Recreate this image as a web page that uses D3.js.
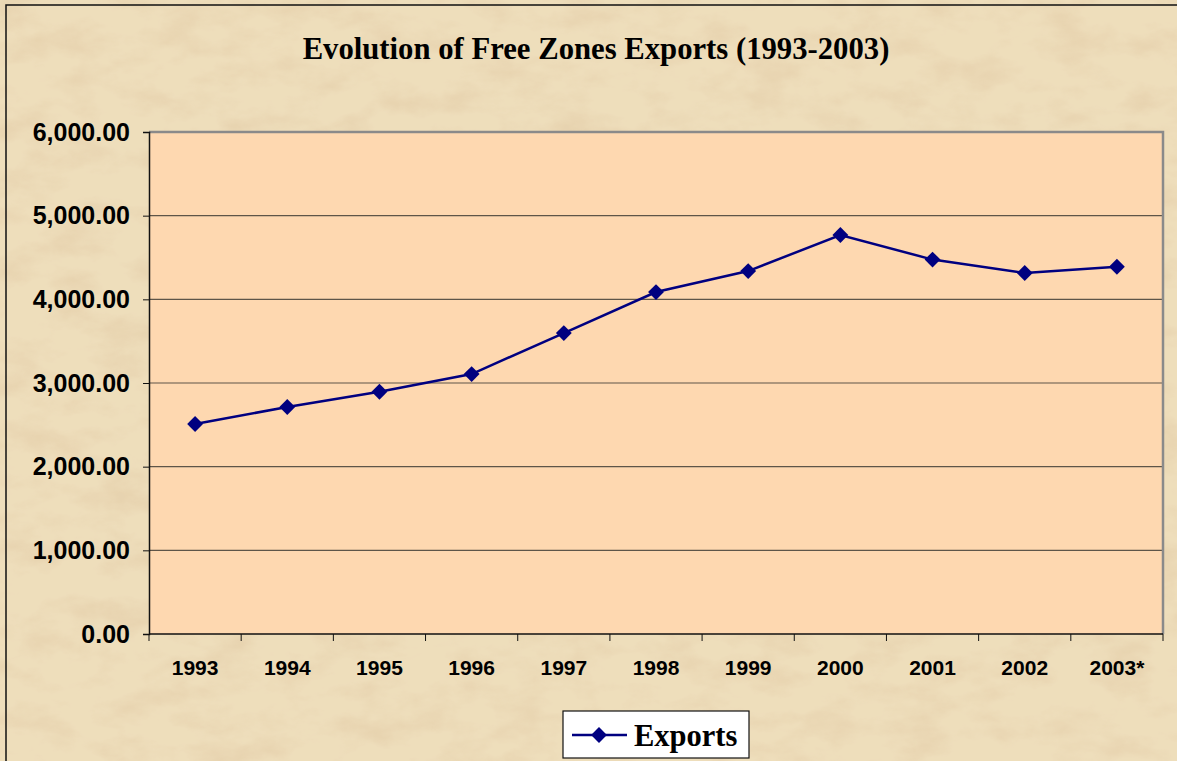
<!DOCTYPE html>
<html>
<head>
<meta charset="utf-8">
<script src="https://cdn.jsdelivr.net/npm/d3@7"></script>
<style>
  body { margin: 0; background: #e9d6ac; }
  svg { display: block; }
</style>
</head>
<body>
<svg id="chart" width="1177" height="761"></svg>
<script>
// data
var years = ['1993', '1994', '1995', '1996', '1997', '1998', '1999', '2000', '2001', '2002', '2003*'];
var exportsValues = [2510, 2713, 2895, 3107, 3597, 4087, 4338, 4769, 4475, 4315, 4390];
var yTicks = [0, 1000, 2000, 3000, 4000, 5000, 6000];

var svg = d3.select('#chart');
var W = 1177, H = 761;
var m = {left: 149, right: 1163, top: 132, bottom: 634};

// parchment background
var defs = svg.append('defs');
var f = defs.append('filter').attr('id', 'paper').attr('x', 0).attr('y', 0).attr('width', '100%').attr('height', '100%');
f.append('feTurbulence').attr('type', 'fractalNoise').attr('baseFrequency', '0.02 0.035').attr('numOctaves', 5).attr('seed', 11).attr('result', 'noise');
f.append('feColorMatrix').attr('in', 'noise').attr('type', 'matrix')
	.attr('values', '0 0 0 0 0.80  0 0 0 0 0.65  0 0 0 0 0.43  2.2 0 0 0 -0.95')
	.attr('result', 'tint');
f.append('feComposite').attr('in', 'tint').attr('in2', 'SourceGraphic').attr('operator', 'in').attr('result', 'spots');
f.append('feMerge').selectAll('feMergeNode').data(['SourceGraphic', 'spots']).enter()
	.append('feMergeNode').attr('in', function(d){ return d; });

svg.append('rect').attr('width', W).attr('height', H).attr('fill', '#eedebb').attr('filter', 'url(#paper)');
svg.append('rect').attr('x', 6).attr('y', 5).attr('width', W + 10).attr('height', H + 10)
	.attr('fill', 'none').attr('stroke', '#111').attr('stroke-width', 1.5);

var x = d3.scaleBand().domain(years).range([m.left, m.right]);
var y = d3.scaleLinear().domain([0, 6000]).range([m.bottom, m.top]);

// plot area
svg.append('rect')
	.attr('x', m.left).attr('y', m.top)
	.attr('width', m.right - m.left).attr('height', m.bottom - m.top)
	.attr('fill', '#fed8b0');

// gridlines
svg.append('g').selectAll('line').data(yTicks.slice(1, -1)).enter().append('line')
	.attr('x1', m.left).attr('x2', m.right)
	.attr('y1', function(d){ return y(d); }).attr('y2', function(d){ return y(d); })
	.attr('stroke', '#5e5548').attr('stroke-width', 1.2);

// top and right frame
svg.append('path')
	.attr('d', 'M' + m.left + ',' + m.top + 'H' + m.right + 'V' + m.bottom)
	.attr('fill', 'none').attr('stroke', '#8a8a8a').attr('stroke-width', 2.5);

// y axis
var yAxis = svg.append('g').attr('transform', 'translate(' + m.left + ',0)')
	.call(d3.axisLeft(y).tickValues(yTicks).tickSize(6).tickPadding(13).tickFormat(d3.format(',.2f')));
yAxis.select('.domain').attr('stroke', '#111').attr('stroke-width', 1.5);
yAxis.selectAll('.tick line').attr('stroke', '#111');
yAxis.selectAll('text').attr('font-family', 'Liberation Sans, Arial, sans-serif')
	.attr('font-weight', 'bold').attr('font-size', 25).attr('fill', '#000');

// x axis: ticks between categories
var xg = svg.append('g').attr('transform', 'translate(0,' + m.bottom + ')');
xg.append('line').attr('x1', m.left).attr('x2', m.right).attr('stroke', '#111').attr('stroke-width', 1.5);
var bounds = years.map(function(d){ return x(d); }).concat([m.right]);
xg.selectAll('line.tk').data(bounds).enter().append('line').attr('class', 'tk')
	.attr('x1', function(d){ return d; }).attr('x2', function(d){ return d; })
	.attr('y1', 0).attr('y2', 7).attr('stroke', '#111');
xg.selectAll('text').data(years).enter().append('text')
	.attr('x', function(d){ return x(d) + x.bandwidth() / 2; })
	.attr('y', 41)
	.attr('text-anchor', 'middle')
	.attr('font-family', 'Liberation Sans, Arial, sans-serif')
	.attr('font-weight', 'bold').attr('font-size', 21)
	.text(function(d){ return d; });

// line and markers
var cx = function(d, i){ return x(years[i]) + x.bandwidth() / 2; };
var line = d3.line().x(cx).y(function(d){ return y(d); });
svg.append('path').datum(exportsValues).attr('d', line)
	.attr('fill', 'none').attr('stroke', '#000080').attr('stroke-width', 2.5);

var diamond = d3.symbol().type(d3.symbolDiamond2).size(160);
svg.append('g').selectAll('path').data(exportsValues).enter().append('path')
	.attr('d', diamond)
	.attr('transform', function(d, i){ return 'translate(' + cx(d, i) + ',' + y(d) + ')'; })
	.attr('fill', '#000080');

// title
svg.append('text').attr('x', 596).attr('y', 59).attr('text-anchor', 'middle')
	.attr('font-family', 'Liberation Serif, Times New Roman, serif')
	.attr('font-weight', 'bold').attr('font-size', 30.7)
	.text('Evolution of Free Zones Exports (1993-2003)');

// legend
var lg = svg.append('g').attr('transform', 'translate(563,711)');
lg.append('rect').attr('width', 186).attr('height', 47).attr('fill', '#fff').attr('stroke', '#111').attr('stroke-width', 1.2);
lg.append('line').attr('x1', 9).attr('x2', 64).attr('y1', 24).attr('y2', 24).attr('stroke', '#000080').attr('stroke-width', 2.5);
lg.append('path').attr('d', diamond).attr('transform', 'translate(36,24)').attr('fill', '#000080');
lg.append('text').attr('x', 71).attr('y', 35)
	.attr('font-family', 'Liberation Serif, Times New Roman, serif')
	.attr('font-weight', 'bold').attr('font-size', 30.5)
	.text('Exports');
</script>
</body>
</html>
